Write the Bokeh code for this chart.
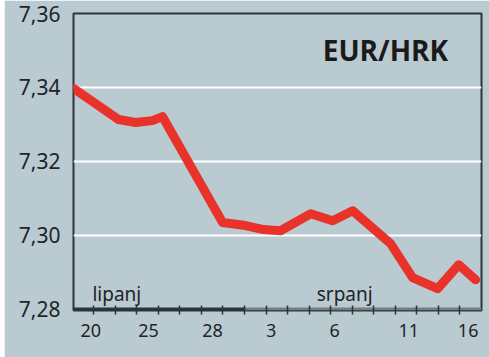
from bokeh.plotting import figure
from bokeh.models import FixedTicker, Range1d, Label, Spacer, CustomJSTickFormatter
from bokeh.layouts import row
from bokeh.embed import file_html
from bokeh.resources import INLINE

# ---- data (x = trading-day position on the axis, y = EUR/HRK rate) ----
day_pos = [0.06, 2.15, 2.94, 3.72, 4.19, 6.98, 8.04, 8.88, 9.67, 11.07,
           12.09, 13.02, 14.78, 15.80, 16.96, 17.94, 18.73]
rate = [7.3397, 7.3313, 7.3305, 7.3310, 7.3321, 7.3034, 7.3026, 7.3015,
        7.3012, 7.3058, 7.3039, 7.3066, 7.2977, 7.2885, 7.2855, 7.2920, 7.2879]

tick_days = list(range(1, 19))
label_pos = [0.86, 3.54, 6.51, 9.23, 12.18, 15.62, 18.38]
label_txt = ["20", "25", "28", "3", "6", "11", "16"]
y_ticks = [7.28, 7.30, 7.32, 7.34, 7.36]
grid_ticks = [7.30, 7.32, 7.34]
july_start = 8.05
months = ["lipanj", "srpanj"]
month_pos = [0.94, 11.35]
title = "EUR/HRK"

BG = "#bacad1"
DARK = "#2b3438"
RED = "#e8322a"
TXT = "#1f2427"

x0, x1 = 0.06, 19.0
p = figure(width=485, height=357, output_backend="svg", toolbar_location=None,
           x_range=Range1d(x0, x1), y_range=Range1d(7.2796, 7.36),
           min_border_left=69, min_border_right=8, min_border_top=13,
           min_border_bottom=47)
p.background_fill_color = BG
p.border_fill_color = BG
p.outline_line_color = DARK
p.outline_line_width = 2

# grid
p.xgrid.visible = False
p.ygrid.ticker = FixedTicker(ticks=grid_ticks)
p.ygrid.grid_line_color = "white"
p.ygrid.grid_line_width = 2

# left axis
p.yaxis.ticker = FixedTicker(ticks=y_ticks)
p.yaxis.formatter = CustomJSTickFormatter(code="return tick.toFixed(2).replace('.', ',');")
p.yaxis.axis_line_color = None
p.yaxis.major_tick_line_color = None
p.yaxis.minor_tick_line_color = None
p.yaxis.major_tick_in = 0
p.yaxis.major_tick_out = 0
p.yaxis.major_label_standoff = 13
p.yaxis.major_label_text_font = "Noto Sans"
p.yaxis.major_label_text_font_size = "21px"
p.yaxis.major_label_text_color = TXT

# bottom axis
p.xaxis.ticker = FixedTicker(ticks=label_pos, minor_ticks=tick_days)
p.xaxis.formatter = CustomJSTickFormatter(args=dict(labels=label_txt),
                                          code="return labels[index];")
p.xaxis.axis_line_color = None
p.xaxis.major_tick_line_color = None
p.xaxis.major_tick_in = 0
p.xaxis.major_tick_out = 4
p.xaxis.minor_tick_line_color = DARK
p.xaxis.minor_tick_line_width = 1.5
p.xaxis.minor_tick_in = 5
p.xaxis.minor_tick_out = 4
p.xaxis.major_label_standoff = 9
p.xaxis.major_label_text_font = "Noto Sans"
p.xaxis.major_label_text_font_size = "18px"
p.xaxis.major_label_text_color = TXT

# baseline: June dark, July grey
p.segment(x0=[x0, july_start], x1=[july_start, x1], y0=[y_ticks[0]] * 2,
          y1=[y_ticks[0]] * 2, line_color=[DARK, "#777d80"], line_width=3)

# data line
p.line(day_pos, rate, line_color=RED, line_width=9, line_join="round",
       line_cap="round")

for m, xp in zip(months, month_pos):
    p.add_layout(Label(x=xp, y=7.2841, text=m, text_font="Noto Sans",
                       text_font_size="19px", text_color=TXT,
                       text_baseline="alphabetic"))

p.add_layout(Label(x=11.63, y=7.3500, text=title, text_font="Open Sans",
                   text_font_size="28px", text_font_style="bold",
                   text_color="#1a1a1a", text_baseline="alphabetic"))

layout = row(Spacer(width=4, height=357, styles={"background-color": "white"}), p)
open("out.html", "w").write(file_html(layout, INLINE))
